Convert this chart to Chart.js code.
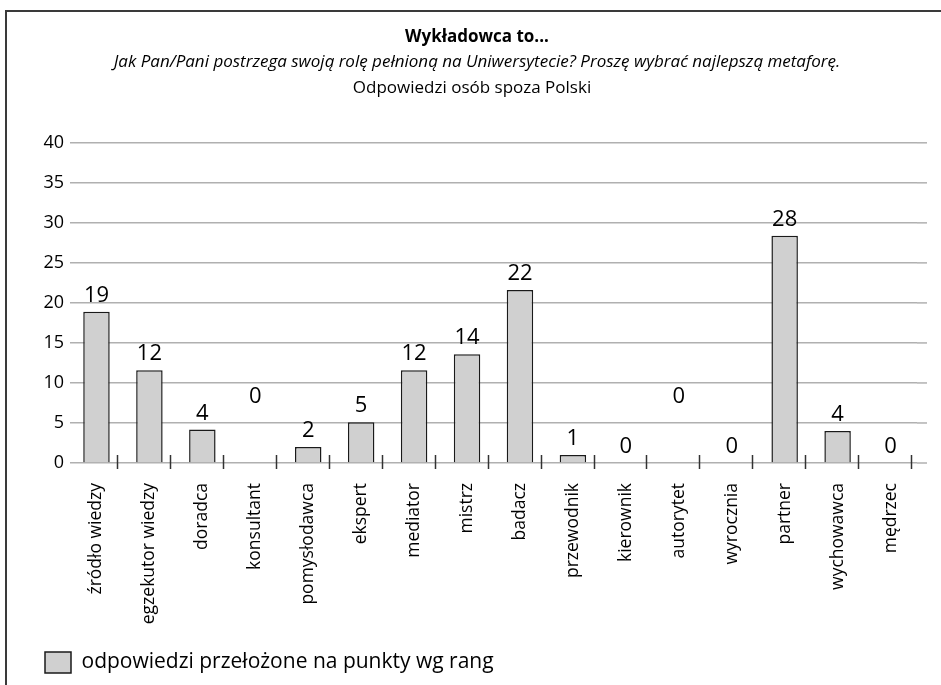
<!DOCTYPE html>
<html>
<head>
<meta charset="utf-8">
<script src="https://cdn.jsdelivr.net/npm/chart.js@4"></script>
<style>
  body { margin: 0; background: #fff; overflow: hidden; }
  #frame {
    position: absolute; left: 5px; top: 10px;
    width: 936px; height: 675px;
    border-left: 2px solid #3a3a3a; border-top: 2px solid #3a3a3a;
  }
</style>
</head>
<body>
<div id="frame"><canvas id="metaforyChart" width="934" height="673"></canvas></div>
<script>
const categories = ['źródło wiedzy', 'egzekutor wiedzy', 'doradca', 'konsultant', 'pomysłodawca',
  'ekspert', 'mediator', 'mistrz', 'badacz', 'przewodnik', 'kierownik', 'autorytet',
  'wyrocznia', 'partner', 'wychowawca', 'mędrzec'];
const punkty = [18.9, 11.6, 4.2, 0, 2.0, 5.1, 11.6, 13.6, 21.6, 1.0, 0, 0, 0, 28.4, 4.0, 0];
const yTicks = [0, 5, 10, 15, 20, 25, 30, 35, 40];
const seriesLabel = 'odpowiedzi przełożone na punkty wg rang';
const titleText = 'Wykładowca to...';
const subtitleText = 'Jak Pan/Pani postrzega swoją rolę pełnioną na Uniwersytecie? Proszę wybrać najlepszą metaforę.';
const thirdLine = 'Odpowiedzi osób spoza Polski';

const FONT = "'Open Sans', 'Noto Sans', sans-serif";

// value labels above bars (Excel put two of the zero labels higher up)
const valueLabels = {
  id: 'valueLabels',
  afterDatasetsDraw(chart, args, opts) {
    const ctx = chart.ctx;
    const meta = chart.getDatasetMeta(0);
    ctx.save();
    ctx.font = '22px ' + FONT;
    ctx.fillStyle = '#000';
    ctx.textAlign = 'center';
    ctx.textBaseline = 'middle';
    meta.data.forEach((bar, i) => {
      const v = chart.data.datasets[0].data[i];
      const lift = opts.lift[i] || 0;
      ctx.fillText(Math.round(v), bar.x, bar.y - 16 - lift);
    });
    ctx.restore();
  }
};

// gridline overhang on the right, tick marks crossing the axis, third title line
const extras = {
  id: 'extras',
  beforeDatasetsDraw(chart) {
    const ctx = chart.ctx;
    const area = chart.chartArea;
    const y = chart.scales.y;
    ctx.save();
    ctx.strokeStyle = '#b0b0b0';
    ctx.lineWidth = 1.5;
    yTicks.forEach(v => {
      const py = y.getPixelForValue(v);
      ctx.beginPath();
      ctx.moveTo(area.right, py);
      ctx.lineTo(area.right + 10, py);
      ctx.stroke();
    });
    ctx.restore();
  },
  afterDraw(chart) {
    const ctx = chart.ctx;
    const x = chart.scales.x;
    const bottom = chart.chartArea.bottom;
    const step = x.getPixelForValue(1) - x.getPixelForValue(0);
    ctx.save();
    ctx.strokeStyle = '#333';
    ctx.lineWidth = 1.5;
    for (let i = 0; i < categories.length; i++) {
      const px = Math.round(x.getPixelForValue(i) + step * 0.39) + 0.5;
      ctx.beginPath();
      ctx.moveTo(px, bottom - 8);
      ctx.lineTo(px, bottom + 6);
      ctx.stroke();
    }
    ctx.font = '17px ' + FONT;
    ctx.fillStyle = '#000';
    ctx.textAlign = 'center';
    ctx.textBaseline = 'middle';
    const tb = chart.titleBlock;
    const cx = (tb.left + tb.right) / 2 - 5;
    ctx.fillText(thirdLine, cx, tb.bottom + 36);
    ctx.restore();
  }
};

const ctx = document.getElementById('metaforyChart').getContext('2d');
const myChart = new Chart(ctx, {
  type: 'bar',
  data: {
    labels: categories,
    datasets: [{
      label: seriesLabel,
      data: punkty,
      backgroundColor: '#d0d0d0',
      borderColor: '#1a1a1a',
      borderWidth: 1.5,
      barPercentage: 0.5,
      categoryPercentage: 1.0
    }]
  },
  options: {
    responsive: false,
    animation: false,
    layout: { padding: { left: 30, right: 24, top: 15, bottom: 2 } },
    plugins: {
      title: {
        display: true,
        text: titleText,
        color: '#000',
        font: { family: FONT, size: 17, weight: 'bold' },
        padding: { top: 0, bottom: 5 }
      },
      subtitle: {
        display: true,
        text: subtitleText,
        color: '#000',
        font: { family: FONT, size: 17, style: 'italic' },
        padding: { top: 0, bottom: 70 }
      },
      legend: {
        position: 'bottom',
        align: 'start',
        labels: {
          color: '#000',
          font: { family: FONT, size: 21 },
          boxWidth: 26,
          boxHeight: 21,
          padding: 8
        }
      },
      tooltip: { enabled: false },
      valueLabels: { lift: { 3: 50, 11: 50 } }
    },
    scales: {
      x: {
        grid: { display: false },
        border: { display: false },
        ticks: {
          color: '#000',
          font: { family: FONT, size: 17.5 },
          minRotation: 90,
          maxRotation: 90,
          autoSkip: false,
          padding: 12
        },
        afterFit(axis) { axis.height = 181; }
      },
      y: {
        min: 0,
        max: 40,
        afterBuildTicks(axis) { axis.ticks = yTicks.map(v => ({ value: v })); },
        grid: { color: '#b0b0b0', lineWidth: 1.5, drawTicks: false },
        border: { display: false },
        ticks: {
          color: '#000',
          font: { family: FONT, size: 18 },
          padding: 6
        },
        afterFit(axis) { axis.width = 33; }
      }
    }
  },
  plugins: [valueLabels, extras]
});
</script>
</body>
</html>
